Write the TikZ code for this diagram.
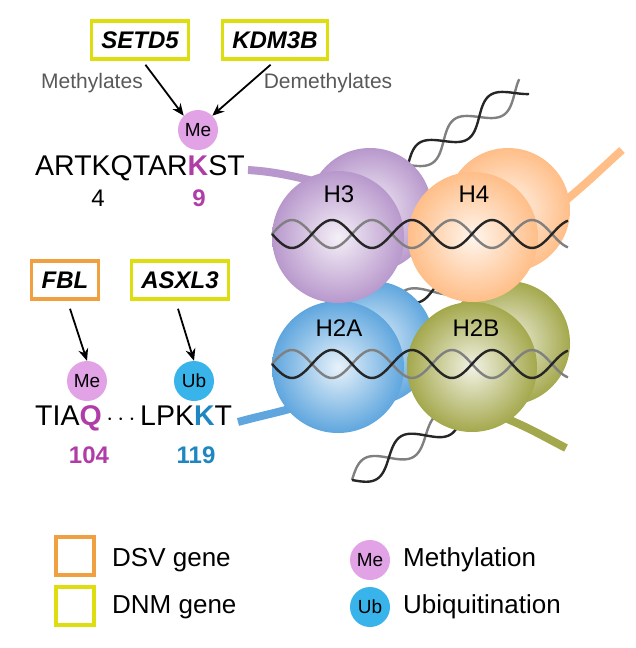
\documentclass[tikz,border=0pt]{standalone}
\usepackage{fontspec}
\setmainfont{Liberation Sans}
\usetikzlibrary{arrows.meta}
\definecolor{ybox}{HTML}{DDDD10}
\definecolor{obox}{HTML}{F0A040}
\definecolor{mepur}{HTML}{B03CA8}
\definecolor{mefill}{HTML}{E2A2E6}
\definecolor{ubblue}{HTML}{1E86C0}
\definecolor{ubfill}{HTML}{38B4EA}
\definecolor{cH3}{HTML}{B898CC}
\definecolor{cH4}{HTML}{FFBE88}
\definecolor{cH2A}{HTML}{5FA6DE}
\definecolor{cH2B}{HTML}{A4A84C}
\tikzset{
 gbox/.style={draw=#1, line width=3.5pt, minimum height=38pt, inner xsep=10pt, font=\fontsize{24}{28}\selectfont\bfseries\itshape},
 mod/.style={circle, fill=#1, minimum size=40pt, inner sep=0pt, font=\fontsize{19}{22}\selectfont},
 arr/.style={-{Stealth[length=12pt,width=10pt]}, line width=1.8pt},
 lbl/.style={text=black!65, font=\fontsize{21}{25}\selectfont},
 seq/.style={font=\fontsize{28.5}{32}\selectfont, inner sep=0pt},
 num/.style={font=\fontsize{24}{28}\selectfont\bfseries, inner sep=0pt},
 leg/.style={font=\fontsize{26}{30}\selectfont, anchor=west, inner sep=0pt},
 tail/.style={line width=8pt, #1},
 ball/.style={inner color=#1!15, outer color=#1},
 strand/.style={line width=2.4pt},
}
\begin{document}
\begin{tikzpicture}[x=1pt,y=-1pt]
\useasboundingbox (0,0) rectangle (635,648);
% diagonal DNA
\foreach \ph/\c in {180/black!50,0/black!85}{
 \draw[strand,\c] plot[domain=0:140,samples=80,smooth] ({408+0.83*\x-0.56*12*sin(4.2*\x+\ph)},{165-0.56*\x-0.83*12*sin(4.2*\x+\ph)});
 \draw[strand,\c] plot[domain=0:115,samples=70,smooth] ({352+0.86*\x+0.52*12*sin(4.2*\x+\ph)},{480-0.52*\x+0.86*12*sin(4.2*\x+\ph)});
 \draw[strand,\c] plot[domain=0:60,samples=40,smooth] ({395+0.86*\x+0.52*8*sin(4.2*\x+\ph)},{300-0.2*\x+0.86*8*sin(4.2*\x+\ph)});
}
% tails
\draw[tail=cH3] (248,170) .. controls (280,172) and (300,178) .. (330,185);
\draw[tail=cH4] (622,150) .. controls (600,170) and (585,185) .. (560,205);
\draw[tail=cH2A] (238,422) .. controls (260,416) and (280,412) .. (300,406);
\draw[tail=cH2B] (505,418) .. controls (530,428) and (550,440) .. (566,448);
% bottom row
\shade[ball=cH2A] (372,343) circle (62);
\shade[ball=cH2B] (508,343) circle (62);
\shade[ball=cH2A] (338,367) circle (66);
\shade[ball=cH2B] (472,367) circle (65);
% top row
\shade[ball=cH3] (370,210) circle (62);
\shade[ball=cH4] (508,210) circle (62);
\shade[ball=cH3] (338,237) circle (66);
\shade[ball=cH4] (473,237) circle (65);
\node[seq,font=\fontsize{24}{28}\selectfont] (h3) at (339,194) {H3};
\node[seq,font=\fontsize{24}{28}\selectfont] (h4) at (474,194) {H4};
\node[seq,font=\fontsize{24}{28}\selectfont] (h2a) at (339,328) {H2A};
\node[seq,font=\fontsize{24}{28}\selectfont] (h2b) at (476,328) {H2B};
% horizontal DNA
\foreach \yy in {234,364}{
 \draw[strand,black!50] plot[domain=272:568,samples=120,smooth] (\x,{\yy-14*sin((\x-272)*4.5)});
 \draw[strand,black!85] plot[domain=272:568,samples=120,smooth] (\x,{\yy+14*sin((\x-272)*4.5)});
}
% top left
\node[gbox=ybox] (setd5) at (140,40) {SETD5};
\node[gbox=ybox] (kdm3b) at (275,40) {KDM3B};
\node[lbl] (meth) at (92,83) {Methylates};
\node[lbl] (demeth) at (328,83) {Demethylates};
\node[mod=mefill] (me1) at (198,130) {Me};
\draw[arr] (setd5.south east) ++(-45,4) coordinate (a1) -- (me1.north west);
\draw[arr] (kdm3b.south west) ++(50,4) coordinate (a2) -- (me1.north east);
\node[seq,anchor=west] (seq1) at (35,168) {ARTKQTAR\textcolor{mepur}{\textbf{K}}ST};
\node[num] (n4) at (98,198) {\textmd{4}};
\node[num,text=mepur] (n9) at (199,198) {9};
% middle left
\node[gbox=obox] (fbl) at (65,280) {FBL};
\node[gbox=ybox] (asxl3) at (180,280) {ASXL3};
\node[mod=mefill] (me2) at (87,381) {Me};
\node[mod=ubfill] (ub) at (194,381) {Ub};
\draw[arr] (fbl.south) ++(5,8) coordinate (a3) -- (me2.north);
\draw[arr] (asxl3.south) ++(-2,8) coordinate (a4) -- (ub.north);
\node[seq,anchor=west] (seq2) at (35,418) {TIA\textcolor{mepur}{\textbf{Q}}\,$\cdots$\,LPK\textcolor{ubblue}{\textbf{K}}T};
\node[num,text=mepur] (n104) at (89,455) {104};
\node[num,text=ubblue] (n119) at (196,455) {119};
% legend
\node[draw=obox,line width=3.5pt,minimum size=38pt,inner sep=0pt] (lo) at (75,556) {};
\node[draw=ybox,line width=3.5pt,minimum size=38pt,inner sep=0pt] (ly) at (75,606) {};
\node[leg] (dsv) at (112,560) {DSV gene};
\node[leg] (dnm) at (112,607) {DNM gene};
\node[mod=mefill] (lme) at (370,560) {Me};
\node[mod=ubfill] (lub) at (370,607) {Ub};
\node[leg] (lmet) at (403,560) {Methylation};
\node[leg] (lubi) at (403,607) {Ubiquitination};
\end{tikzpicture}
\end{document}
